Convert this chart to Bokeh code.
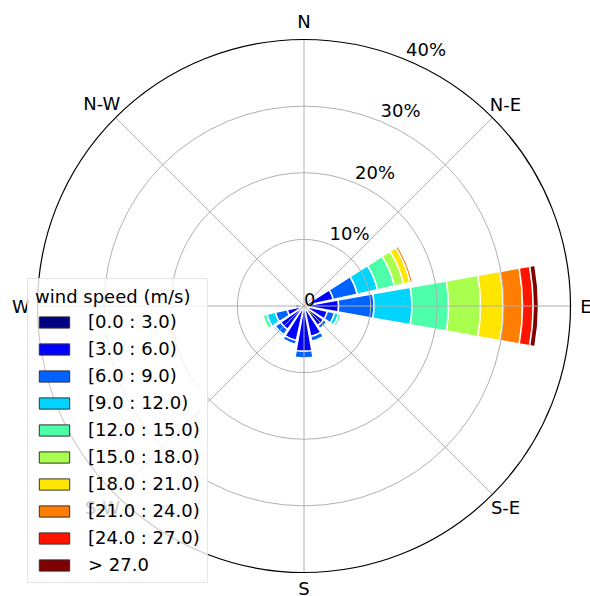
import numpy as np
from bokeh.plotting import figure
from bokeh.models import ColumnDataSource, Range1d, Legend, LegendItem
from bokeh.embed import file_html
from bokeh.resources import INLINE
from bokeh.core.properties import value

# ---------------- data ----------------
directions = ["N", "NNE", "NE", "ENE", "E", "ESE", "SE", "SSE",
              "S", "SSW", "SW", "WSW", "W", "WNW", "NW", "NNW"]
speed_labels = ["[0.0 : 3.0)", "[3.0 : 6.0)", "[6.0 : 9.0)", "[9.0 : 12.0)",
                "[12.0 : 15.0)", "[15.0 : 18.0)", "[18.0 : 21.0)",
                "[21.0 : 24.0)", "[24.0 : 27.0)", "> 27.0"]
speed_colors = ["#000080", "#0000ff", "#0063ff", "#00d4ff", "#4dffa9",
                "#a9ff4d", "#ffe600", "#ff7d00", "#ff1400", "#800000"]

# frequency (%) per speed bin, per direction (N .. NNW)
bin_0_3   = [0.1, 0.1, 0.2, 0.3, 0.3, 0.3, 0.3, 0.3, 0.3, 0.3, 0.3, 0.3, 0.2, 0.2, 0.1, 0.1]
bin_3_6   = [0.2, 0.2, 0.4, 4.2, 4.9, 3.3, 3.3, 4.4, 6.5, 5.0, 4.0, 2.3, 1.1, 0.4, 0.2, 0.1]
bin_6_9   = [0.0, 0.0, 0.0, 3.7, 5.3, 1.1, 0.6, 0.7, 1.0, 0.6, 1.0, 1.8, 0.0, 0.0, 0.0, 0.0]
bin_9_12  = [0.0, 0.0, 0.0, 3.1, 5.7, 0.6, 0.2, 0.0, 0.0, 0.1, 0.3, 1.3, 0.0, 0.0, 0.0, 0.0]
bin_12_15 = [0.0, 0.0, 0.0, 2.6, 5.5, 0.4, 0.0, 0.0, 0.0, 0.0, 0.0, 0.6, 0.0, 0.0, 0.0, 0.0]
bin_15_18 = [0.0, 0.0, 0.0, 1.4, 4.8, 0.0, 0.0, 0.0, 0.0, 0.0, 0.0, 0.0, 0.0, 0.0, 0.0, 0.0]
bin_18_21 = [0.0, 0.0, 0.0, 1.0, 3.4, 0.0, 0.0, 0.0, 0.0, 0.0, 0.0, 0.0, 0.0, 0.0, 0.0, 0.0]
bin_21_24 = [0.0, 0.0, 0.0, 0.4, 2.9, 0.0, 0.0, 0.0, 0.0, 0.0, 0.0, 0.0, 0.0, 0.0, 0.0, 0.0]
bin_24_27 = [0.0, 0.0, 0.0, 0.05, 1.6, 0.0, 0.0, 0.0, 0.0, 0.0, 0.0, 0.0, 0.0, 0.0, 0.0, 0.0]
bin_27_up = [0.0, 0.0, 0.0, 0.0, 0.8, 0.0, 0.0, 0.0, 0.0, 0.0, 0.0, 0.0, 0.0, 0.0, 0.0, 0.0]
bins = [bin_0_3, bin_3_6, bin_6_9, bin_9_12, bin_12_15, bin_15_18,
        bin_18_21, bin_21_24, bin_24_27, bin_27_up]

radial_ticks = [0, 10, 20, 30, 40]
radial_tick_labels = ["0", "10%", "20%", "30%", "40%"]
compass_labels = ["N", "N-E", "E", "S-E", "S", "S-W", "W", "N-W"]
compass_angles = [0, 45, 90, 135, 180, 225, 270, 315]

# ---------------- geometry ----------------
W, H = 590, 596
rmax = 40.0
scale = 266.5 / rmax          # px per percent
cx, cy = 303.5, 305.5         # centre in figure px (from top-left)
sector_width = 20.0           # degrees
label_px = [285, 285, 282, 285, 282, 285, 283, 286]  # label distance (px)

p = figure(width=W, height=H,
           x_range=Range1d(-cx / scale, (W - cx) / scale),
           y_range=Range1d(-(H - cy) / scale, cy / scale),
           min_border=0, toolbar_location=None, output_backend="svg",
           x_axis_location=None, y_axis_location=None)
p.grid.visible = False
p.outline_line_color = None
p.background_fill_color = "white"

# ---------------- wedges ----------------
inner, outer, start, end, color = [], [], [], [], []
cum = np.zeros(len(directions))
for b, vals in enumerate(bins):
    vals = np.array(vals, dtype=float)
    for i in range(len(directions)):
        if vals[i] > 0:
            theta = np.deg2rad(90.0 - i * 22.5)
            half = np.deg2rad(sector_width / 2)
            inner.append(cum[i])
            outer.append(cum[i] + vals[i])
            start.append(theta - half)
            end.append(theta + half)
            color.append(speed_colors[b])
    cum += vals

src = ColumnDataSource(dict(inner=inner, outer=outer, start=start, end=end, color=color))
p.annular_wedge(x=0, y=0, inner_radius="inner", outer_radius="outer",
                start_angle="start", end_angle="end", source=src,
                fill_color="color", line_color="white", line_width=1.5)

# ---------------- grid ----------------
p.circle(x=[0, 0, 0], y=[0, 0, 0], radius=radial_ticks[1:4],
         fill_color=None, line_color="#b0b0b0", line_width=1)
ang = np.deg2rad(90.0 - np.array(compass_angles))
p.segment(x0=np.zeros(8), y0=np.zeros(8), x1=rmax * np.cos(ang), y1=rmax * np.sin(ang),
          line_color="#b0b0b0", line_width=1)
p.circle(x=[0], y=[0], radius=[rmax], fill_color=None, line_color="black", line_width=1.2)

# ---------------- texts ----------------
font = value("DejaVu Sans")
ra = np.deg2rad(90.0 - 22.5)
p.text(x=[r * np.cos(ra) for r in radial_ticks], y=[r * np.sin(ra) for r in radial_ticks],
       text=radial_tick_labels, text_font=font, text_font_size="18px",
       text_align="left", text_baseline="bottom", text_color="black")

rl = np.array(label_px) / scale
p.text(x=rl * np.cos(ang), y=rl * np.sin(ang), text=compass_labels,
       text_font=font, text_font_size="18px", text_align="center",
       text_baseline="middle", text_color="black")

# ---------------- legend ----------------
items = []
for lab, col in zip(speed_labels, speed_colors):
    r = p.quad(left=[1000], right=[1001], bottom=[1000], top=[1001],
               fill_color=col, line_color="#333333", line_width=1)
    items.append(LegendItem(label=lab, renderers=[r]))

legend = Legend(items=items, location=(27, 13), title="wind speed (m/s)",
                title_text_font="DejaVu Sans", title_text_font_size="18px",
                title_text_font_style="normal", title_text_color="black",
                title_standoff=4,
                label_text_font="DejaVu Sans", label_text_font_size="18px",
                label_text_color="black",
                glyph_width=38, glyph_height=14, label_standoff=15,
                label_height=21, spacing=6, padding=7, margin=0,
                border_line_color="#cccccc", border_line_width=1,
                background_fill_color="white", background_fill_alpha=0.8)
p.add_layout(legend)

open("out.html", "w").write(file_html(p, INLINE))
